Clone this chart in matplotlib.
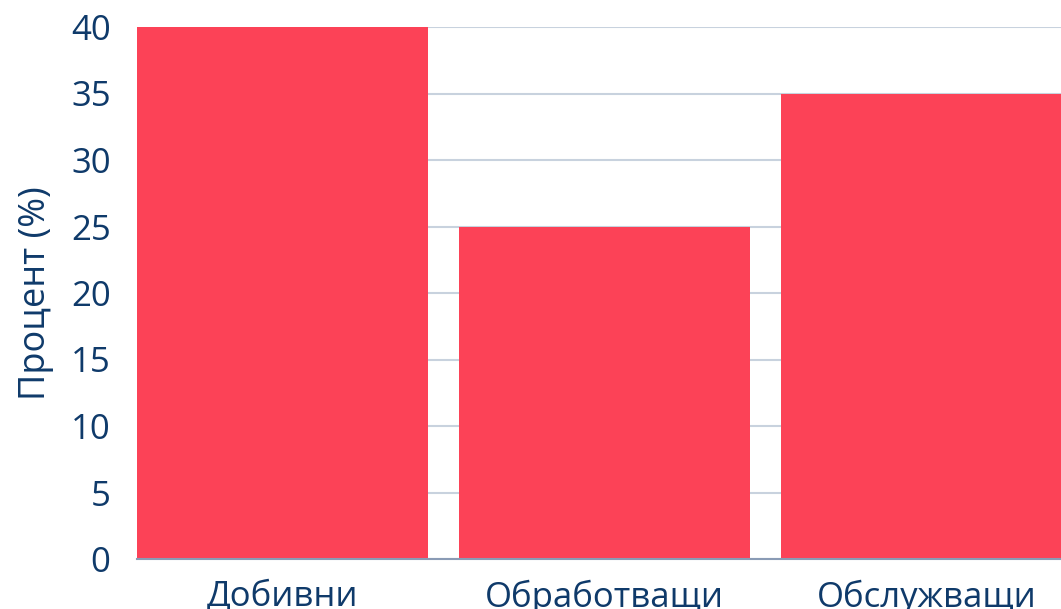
import matplotlib
matplotlib.use('Agg')
import matplotlib.pyplot as plt

categories = ['Добивни', 'Обработващи', 'Обслужващи']
values = [40, 25, 35]
yticks = [0, 5, 10, 15, 20, 25, 30, 35, 40]

text_color = '#0f3a6a'
bar_color = '#fc4257'

plt.rcParams['font.family'] = ['Open Sans', 'DejaVu Sans']

fig = plt.figure(figsize=(10.61, 6.09), dpi=100)
ax = fig.add_axes([137 / 1061, 1 - 559 / 609, 1 - 137 / 1061, (559 - 27) / 609])

x = range(len(categories))
ax.bar(x, values, width=0.904, color=bar_color, zorder=3)

ax.set_xlim(-0.452, 2.418)
ax.set_ylim(0, 40)
ax.set_yticks(yticks)
ax.set_xticks(list(x))
ax.set_xticklabels(categories)

ax.grid(axis='y', color='#c8d2de', linewidth=1.5, zorder=0)
for s in ['top', 'right', 'left']:
    ax.spines[s].set_visible(False)
ax.spines['bottom'].set_color('#8a9bb5')
ax.spines['bottom'].set_linewidth(1.5)
ax.spines['bottom'].set_zorder(4)

ax.tick_params(axis='both', length=0, labelsize=25, colors=text_color)
ax.tick_params(axis='y', pad=19)
ax.tick_params(axis='x', pad=15)
ax.set_ylabel('Процент (%)', fontsize=26, color=text_color, labelpad=12)

fig.savefig('out.png', dpi=100)
